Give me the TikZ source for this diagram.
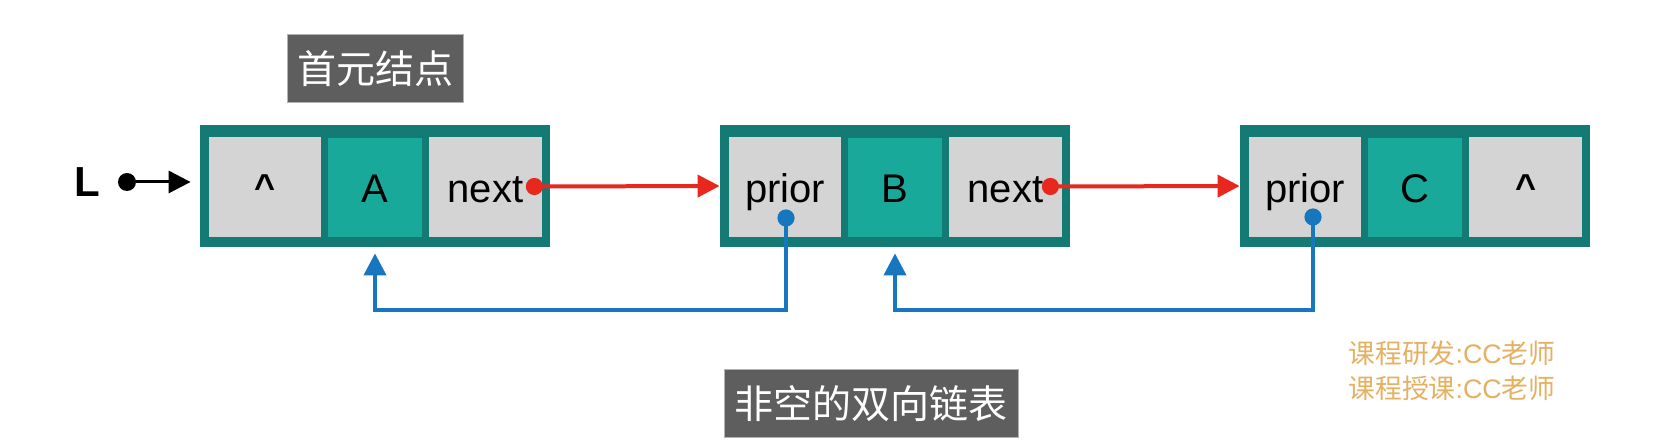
\documentclass[tikz,border=0pt]{standalone}
\usepackage{fontspec}
\setmainfont{Liberation Sans}
\newfontfamily\cjk{Noto Sans CJK SC}
\usetikzlibrary{arrows.meta,calc}
\definecolor{tealdark}{HTML}{137B73}
\definecolor{tealmid}{HTML}{19A99B}
\definecolor{cellgray}{HTML}{D4D4D4}
\definecolor{redc}{HTML}{E8281E}
\definecolor{bluec}{HTML}{1677BE}
\definecolor{titlegray}{HTML}{5E5E5E}
\definecolor{orangec}{HTML}{E6B062}
\newcommand{\nullptr}{{\bfseries\fontsize{18}{20}\selectfont\raisebox{1.5pt}{\^{}}}}
\begin{document}
\begin{tikzpicture}[x=0.5pt,y=-0.5pt,
  outer/.style={fill=tealdark, draw=none, minimum width=175pt, minimum height=61pt, inner sep=0pt},
  cellbase/.style={draw=none, inner sep=0pt, font=\fontsize{20}{24}\selectfont, text height=17.5pt, text depth=2pt},
  graycell/.style={cellbase, fill=cellgray, minimum width=56pt, minimum height=50pt},
  datacell/.style={cellbase, fill=tealmid, minimum width=47pt, minimum height=49.5pt},
  titlebox/.style={fill=titlegray, draw=black!30, line width=0.5pt, text=white, inner sep=0pt,
    font=\cjk\fontsize{19.5}{22}\selectfont, minimum height=34pt},
  credit/.style={anchor=west, inner sep=0pt, text=orangec, font=\cjk\fontsize{13.4}{15}\selectfont},
  redl/.style={draw=redc, line width=2pt, -{Triangle[length=11pt,width=11pt]}},
  bluel/.style={draw=bluec, line width=2pt, -{Triangle[length=11pt,width=11pt]}, shorten >=3pt},
  blackl/.style={draw=black, line width=1.5pt, -{Triangle[length=11pt,width=11pt]}}
]
\useasboundingbox (0,0) rectangle (1658,448);
\fill[white] (0,0) rectangle (1658,448);

% title
\node[titlebox, minimum width=88pt] (t1) at (375,69) {首元结点};
\node[titlebox, minimum width=147pt] (t2) at (871,403.5) {非空的双向链表};

% node A
\node[outer] (A) at (375,186) {};
\node[graycell] (a1) at (265,187) {\nullptr};
\node[datacell] (a2) at (375,187.5) {A};
\node[graycell, minimum width=56.5pt] (a3) at (485.5,187.5) {next};
% node B
\node[outer] (B) at (895,186) {};
\node[graycell] (b1) at (785,187) {prior};
\node[datacell] (b2) at (895,187.5) {B};
\node[graycell, minimum width=56.5pt] (b3) at (1005.5,187.5) {next};
% node C
\node[outer] (C) at (1415,186) {};
\node[graycell] (c1) at (1305,187) {prior};
\node[datacell] (c2) at (1415,187.5) {C};
\node[graycell, minimum width=56.5pt] (c3) at (1525.5,187.5) {\nullptr};

% L pointer
\node[font=\bfseries\fontsize{21}{24}\selectfont, inner sep=0pt] (L) at (87,182) {L};
\coordinate (ldot) at (127,182);
\draw[blackl] (ldot) -- ($(ldot -| A.west)+(-9,0)$);
\fill[black] (ldot) circle[radius=4.5pt];

% next pointers
\coordinate (nA) at ($(a3.east)+(-8,-1)$);
\coordinate (nB) at ($(b3.east)+(-12,-1)$);
\draw[redl] (nA) -- (B.west);
\draw[redl] (nB) -- (C.west);
\fill[redc] (nA) circle[radius=4.3pt];
\fill[redc] (nB) circle[radius=4.3pt];

% prior pointers
\coordinate (pB) at ($(b1.center)+(1,31)$);
\coordinate (pC) at ($(c1.center)+(8,30)$);
\draw[bluel, line join=miter] (pB) -- (pB |- 0,310) -- (A.south |- 0,310) -- (A.south);
\draw[bluel, line join=miter] (pC) -- (pC |- 0,310) -- (B.south |- 0,310) -- (B.south);
\fill[bluec] (pB) circle[radius=4.3pt];
\fill[bluec] (pC) circle[radius=4.3pt];

% credits
\node[credit] (cr1) at (1348,353) {课程研发{\fontspec{Liberation Sans}:CC}老师};
\node[credit] (cr2) at (1348,388) {课程授课{\fontspec{Liberation Sans}:CC}老师};
\end{tikzpicture}
\end{document}
